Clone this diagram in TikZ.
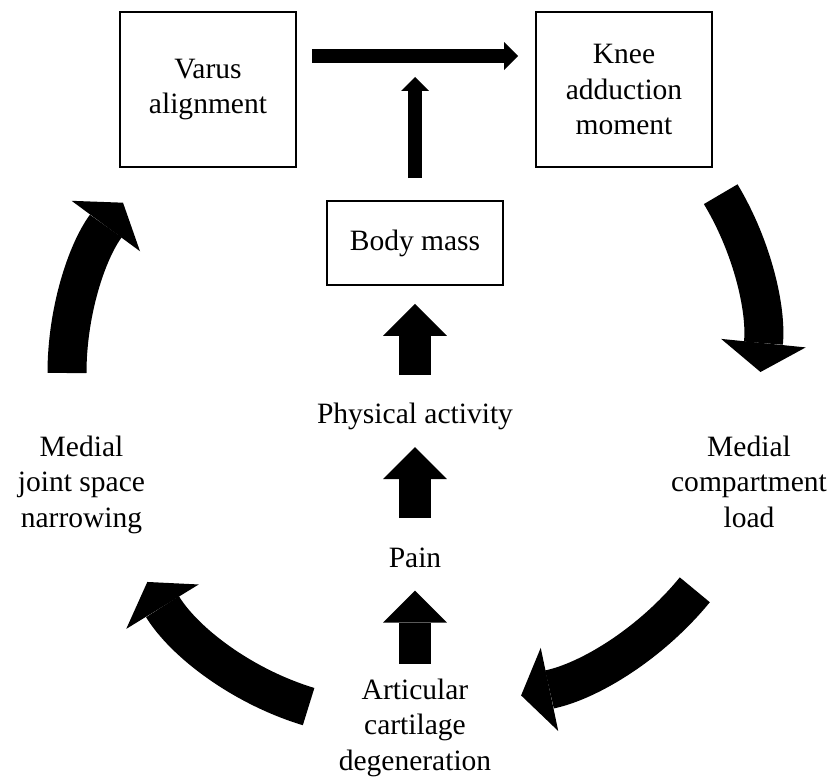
\documentclass[tikz,border=0pt]{standalone}
\usepackage{fontspec}
\setmainfont{Liberation Serif}
\usetikzlibrary{arrows.meta}

\begin{document}
\begin{tikzpicture}
[
  x=0.02cm,
  y=-0.02cm,
  every node/.style={font=\fontsize{16.8}{20}\selectfont,align=center,inner sep=0pt},
  factor/.style={draw,line width=0.04cm,minimum width=3.52cm},
  tall/.style={factor,minimum height=3.1cm},
  thinarrow/.style={line width=0.28cm,-{Triangle[width=0.56cm,length=0.28cm,line width=0pt]}},
  blockarrow/.style={line width=0.64cm,-{Triangle[width=1.28cm,length=0.64cm,line width=0pt]}},
  looparrow/.style={line width=0.78cm,-{Triangle[width=1.7cm,length=0.58cm,line width=0pt]}}
]
\useasboundingbox (0,0) rectangle (835,777);

% boxes
\node[tall] (varus) at (208,89.5) {Varus\\alignment};
\node[tall] (knee) at (624,89.5) {Knee\\adduction\\moment};
\node[factor,minimum height=1.68cm] (body) at (415,243) {Body mass};

% labels (base = last line)
\node[anchor=base] (phys) at (415,423) {Physical activity};
\node[anchor=base] (pain) at (415,567) {Pain};
\node[anchor=base] (cart) at (415,770) {Articular\\cartilage\\degeneration};
\node[anchor=base] (load) at (749,527) {Medial\\compartment\\load};
\node[anchor=base] (jsn) at (81.5,527) {Medial\\joint space\\narrowing};

% thin arrows
\coordinate (link) at (415,63);
\draw[thinarrow,shorten <=0.3cm,shorten >=0.34cm] ([yshift=0.67cm]varus.east) -- ([yshift=0.67cm]knee.west);
\draw[thinarrow,shorten <=0.44cm,shorten >=0.28cm] (body) -- (link);

% block arrows
\draw[blockarrow,shorten <=0.54cm,shorten >=0.36cm] (phys) -- (body);
\draw[blockarrow,shorten <=0.58cm,shorten >=0.35cm] (pain) -- (phys);
\draw[blockarrow,shorten <=0.3cm,shorten >=0.46cm] (cart) -- (pain);

% cycle
\coordinate (c1) at (67,373);
\coordinate (c2) at (720.7,194.2);
\coordinate (c3) at (694.8,589.8);
\coordinate (c4) at (308.6,706.6);
\draw[looparrow] (c1) arc[start angle=180,end angle=216.4,radius=287];
\draw[looparrow] (c2) arc[start angle=-31,end angle=5.75,radius=289];
\draw[looparrow] (c3) arc[start angle=39.3,end angle=78.1,radius=306];
\draw[looparrow] (c4) arc[start angle=106.9,end angle=148.5,radius=287];

\end{tikzpicture}
\end{document}
